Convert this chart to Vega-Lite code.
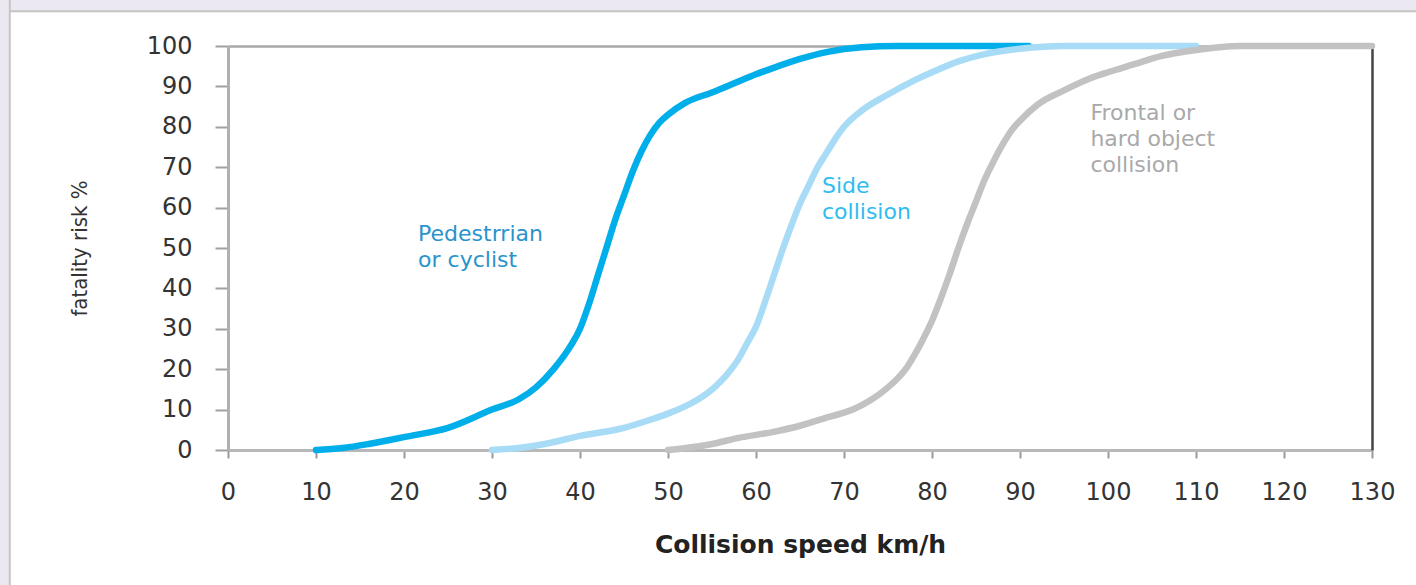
{
  "$schema": "https://vega.github.io/schema/vega-lite/v6.json",
  "width": 1144,
  "height": 404,
  "autosize": {"type": "none"},
  "padding": {"left": 228, "top": 46, "right": 44, "bottom": 135},
  "background": "#ffffff",
  "config": {"view": {"stroke": null}, "text": {"lineBreak": "\n"}},
  "datasets": {
    "frame": [
      {"x1": -40, "x2": 160, "y1": 108.6, "y2": 130},
      {"x1": -40, "x2": -24.8, "y1": -60, "y2": 130}
    ],
    "curves": [
      {"speed": 10, "risk": 0, "type": "Pedestrian"},
      {"speed": 13, "risk": 0.5, "type": "Pedestrian"},
      {"speed": 16, "risk": 1.5, "type": "Pedestrian"},
      {"speed": 20, "risk": 3.2, "type": "Pedestrian"},
      {"speed": 25, "risk": 5.5, "type": "Pedestrian"},
      {"speed": 30, "risk": 10, "type": "Pedestrian"},
      {"speed": 33, "risk": 12.5, "type": "Pedestrian"},
      {"speed": 35, "risk": 15.5, "type": "Pedestrian"},
      {"speed": 37, "risk": 20, "type": "Pedestrian"},
      {"speed": 39, "risk": 26, "type": "Pedestrian"},
      {"speed": 40, "risk": 30, "type": "Pedestrian"},
      {"speed": 41, "risk": 36, "type": "Pedestrian"},
      {"speed": 42, "risk": 43, "type": "Pedestrian"},
      {"speed": 43, "risk": 50, "type": "Pedestrian"},
      {"speed": 44, "risk": 57, "type": "Pedestrian"},
      {"speed": 45, "risk": 63, "type": "Pedestrian"},
      {"speed": 46, "risk": 69, "type": "Pedestrian"},
      {"speed": 47, "risk": 74, "type": "Pedestrian"},
      {"speed": 48, "risk": 78, "type": "Pedestrian"},
      {"speed": 49, "risk": 81, "type": "Pedestrian"},
      {"speed": 50, "risk": 83, "type": "Pedestrian"},
      {"speed": 52, "risk": 86, "type": "Pedestrian"},
      {"speed": 55, "risk": 88.5, "type": "Pedestrian"},
      {"speed": 58, "risk": 91.2, "type": "Pedestrian"},
      {"speed": 60, "risk": 93, "type": "Pedestrian"},
      {"speed": 62, "risk": 94.6, "type": "Pedestrian"},
      {"speed": 65, "risk": 96.8, "type": "Pedestrian"},
      {"speed": 68, "risk": 98.5, "type": "Pedestrian"},
      {"speed": 72, "risk": 99.7, "type": "Pedestrian"},
      {"speed": 76, "risk": 100, "type": "Pedestrian"},
      {"speed": 91, "risk": 100, "type": "Pedestrian"},
      {"speed": 30, "risk": 0, "type": "Side"},
      {"speed": 33, "risk": 0.5, "type": "Side"},
      {"speed": 36, "risk": 1.5, "type": "Side"},
      {"speed": 40, "risk": 3.5, "type": "Side"},
      {"speed": 45, "risk": 5.5, "type": "Side"},
      {"speed": 48, "risk": 7.5, "type": "Side"},
      {"speed": 50, "risk": 9, "type": "Side"},
      {"speed": 53, "risk": 12, "type": "Side"},
      {"speed": 55, "risk": 15, "type": "Side"},
      {"speed": 56, "risk": 17, "type": "Side"},
      {"speed": 57, "risk": 19.5, "type": "Side"},
      {"speed": 58, "risk": 22.5, "type": "Side"},
      {"speed": 59, "risk": 26.5, "type": "Side"},
      {"speed": 60, "risk": 30.5, "type": "Side"},
      {"speed": 61, "risk": 36.5, "type": "Side"},
      {"speed": 62, "risk": 43, "type": "Side"},
      {"speed": 63, "risk": 49.5, "type": "Side"},
      {"speed": 64, "risk": 55.5, "type": "Side"},
      {"speed": 65, "risk": 61, "type": "Side"},
      {"speed": 66, "risk": 65.5, "type": "Side"},
      {"speed": 67, "risk": 70, "type": "Side"},
      {"speed": 68, "risk": 73.5, "type": "Side"},
      {"speed": 69, "risk": 77, "type": "Side"},
      {"speed": 70, "risk": 80, "type": "Side"},
      {"speed": 72, "risk": 84, "type": "Side"},
      {"speed": 75, "risk": 88, "type": "Side"},
      {"speed": 78, "risk": 91.5, "type": "Side"},
      {"speed": 80, "risk": 93.5, "type": "Side"},
      {"speed": 83, "risk": 96.2, "type": "Side"},
      {"speed": 86, "risk": 98, "type": "Side"},
      {"speed": 90, "risk": 99.3, "type": "Side"},
      {"speed": 95, "risk": 100, "type": "Side"},
      {"speed": 110, "risk": 100, "type": "Side"},
      {"speed": 50, "risk": 0, "type": "Frontal"},
      {"speed": 52, "risk": 0.5, "type": "Frontal"},
      {"speed": 55, "risk": 1.5, "type": "Frontal"},
      {"speed": 58, "risk": 3, "type": "Frontal"},
      {"speed": 62, "risk": 4.5, "type": "Frontal"},
      {"speed": 65, "risk": 6, "type": "Frontal"},
      {"speed": 68, "risk": 8, "type": "Frontal"},
      {"speed": 71, "risk": 10, "type": "Frontal"},
      {"speed": 73, "risk": 12.3, "type": "Frontal"},
      {"speed": 75, "risk": 15.5, "type": "Frontal"},
      {"speed": 76, "risk": 17.5, "type": "Frontal"},
      {"speed": 77, "risk": 20, "type": "Frontal"},
      {"speed": 78, "risk": 23.5, "type": "Frontal"},
      {"speed": 79, "risk": 27.5, "type": "Frontal"},
      {"speed": 80, "risk": 32, "type": "Frontal"},
      {"speed": 81, "risk": 37.5, "type": "Frontal"},
      {"speed": 82, "risk": 43.5, "type": "Frontal"},
      {"speed": 83, "risk": 50, "type": "Frontal"},
      {"speed": 84, "risk": 56, "type": "Frontal"},
      {"speed": 85, "risk": 61.5, "type": "Frontal"},
      {"speed": 86, "risk": 67, "type": "Frontal"},
      {"speed": 87, "risk": 71.5, "type": "Frontal"},
      {"speed": 88, "risk": 75.5, "type": "Frontal"},
      {"speed": 89, "risk": 79, "type": "Frontal"},
      {"speed": 90, "risk": 81.5, "type": "Frontal"},
      {"speed": 92, "risk": 85.5, "type": "Frontal"},
      {"speed": 95, "risk": 89, "type": "Frontal"},
      {"speed": 98, "risk": 92, "type": "Frontal"},
      {"speed": 100, "risk": 93.5, "type": "Frontal"},
      {"speed": 103, "risk": 95.5, "type": "Frontal"},
      {"speed": 106, "risk": 97.5, "type": "Frontal"},
      {"speed": 110, "risk": 99, "type": "Frontal"},
      {"speed": 115, "risk": 100, "type": "Frontal"},
      {"speed": 130, "risk": 100, "type": "Frontal"}
    ],
    "labels": [
      {"speed": 21.6, "risk": 51.7, "label": "Pedestrrian\nor cyclist", "type": "Pedestrian"},
      {"speed": 67.5, "risk": 63.6, "label": "Side\ncollision", "type": "Side"},
      {"speed": 98, "risk": 81.7, "label": "Frontal or\nhard object\ncollision", "type": "Frontal"}
    ]
  },
  "layer": [
    {
      "data": {"name": "frame"},
      "mark": {"type": "rect", "fill": "#ece8f2", "stroke": "#c4c4c4", "strokeWidth": 2, "clip": false},
      "encoding": {
        "x": {
          "field": "x1", "type": "quantitative",
          "scale": {"domain": [0, 130], "nice": false, "zero": false},
          "axis": {"orient": "top", "labels": false, "ticks": false, "grid": false, "title": null, "domainColor": "#a8a8a8", "domainWidth": 2.5}
        },
        "x2": {"field": "x2"},
        "y": {
          "field": "y1", "type": "quantitative",
          "scale": {"domain": [0, 100], "nice": false},
          "axis": {"orient": "right", "labels": false, "ticks": false, "grid": false, "title": null, "domainColor": "#444444", "domainWidth": 2.5}
        },
        "y2": {"field": "y2"}
      }
    },
    {
      "data": {"name": "curves"},
      "mark": {"type": "line", "interpolate": "monotone", "strokeWidth": 6.5, "strokeCap": "round"},
      "encoding": {
        "x": {
          "field": "speed", "type": "quantitative",
          "scale": {"domain": [0, 130], "nice": false, "zero": false},
          "axis": {
            "orient": "bottom",
            "values": [0, 10, 20, 30, 40, 50, 60, 70, 80, 90, 100, 110, 120, 130],
            "grid": false,
            "domainColor": "#b8b8b8", "domainWidth": 3,
            "tickColor": "#9a9a9a", "tickWidth": 2, "tickSize": 8,
            "labelFont": "DejaVu Sans", "labelFontSize": 24, "labelColor": "#333333",
            "labelPadding": 22, "labelFlush": false,
            "title": "Collision speed km/h",
            "titleFont": "DejaVu Sans", "titleFontSize": 25, "titleFontWeight": "bold",
            "titleColor": "#222222", "titlePadding": 28
          }
        },
        "y": {
          "field": "risk", "type": "quantitative",
          "scale": {"domain": [0, 100], "nice": false},
          "axis": {
            "orient": "left",
            "values": [0, 10, 20, 30, 40, 50, 60, 70, 80, 90, 100],
            "grid": false,
            "domainColor": "#b0b0b0", "domainWidth": 3,
            "tickColor": "#a0a0a0", "tickWidth": 2, "tickSize": 13,
            "labelFont": "DejaVu Sans", "labelFontSize": 24, "labelColor": "#333333",
            "labelPadding": 23,
            "title": "fatality risk %",
            "titleFont": "Liberation Sans Narrow, DejaVu Sans Condensed, Liberation Sans, sans-serif",
            "titleFontSize": 22, "titleFontWeight": "normal",
            "titleColor": "#333333", "titlePadding": 55
          }
        },
        "color": {
          "field": "type", "type": "nominal",
          "scale": {"domain": ["Frontal", "Side", "Pedestrian"], "range": ["#c2c2c2", "#a8dcf6", "#00aeea"]},
          "legend": null
        },
        "order": {"field": "type"},
        "detail": {"field": "type"}
      }
    },
    {
      "data": {"name": "labels"},
      "mark": {"type": "text", "align": "left", "baseline": "alphabetic", "font": "DejaVu Sans", "fontSize": 22, "lineHeight": 26},
      "encoding": {
        "x": {"field": "speed", "type": "quantitative", "axis": null},
        "y": {"field": "risk", "type": "quantitative", "axis": null},
        "text": {"field": "label"},
        "color": {
          "field": "type", "type": "nominal",
          "scale": {"domain": ["Frontal", "Side", "Pedestrian"], "range": ["#a9a9a9", "#2fbcf0", "#2a93cc"]},
          "legend": null
        }
      }
    }
  ],
  "resolve": {"scale": {"color": "independent"}}
}
